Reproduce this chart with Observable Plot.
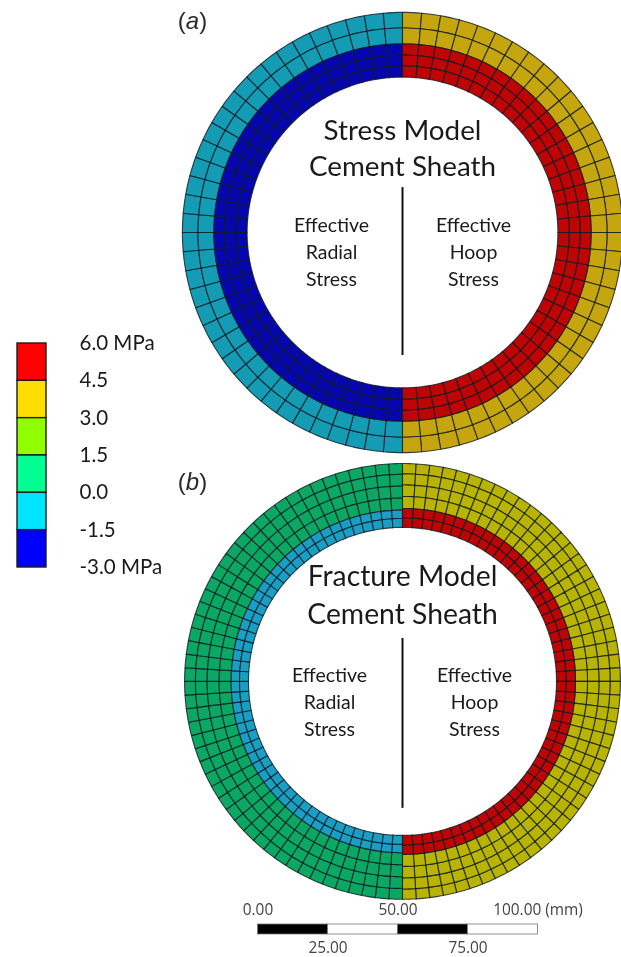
<!DOCTYPE html>
<html>
<head>
<meta charset="utf-8">
<script src="https://cdn.jsdelivr.net/npm/d3@7"></script>
<script src="https://cdn.jsdelivr.net/npm/@observablehq/plot@0.6"></script>
<style>
html,body{margin:0;padding:0;background:#fff}
#page{position:relative;width:621px;height:957px;overflow:hidden}
#page svg{position:absolute;overflow:visible;background:transparent;filter:blur(0.4px)}
</style>
</head>
<body>
<div id="page"></div>
<script>
// Stress scale legend (MPa)
const legendValues = [6, 4.5, 3, 1.5, 0, -1.5, -3];
const legendLabels = ["6.0 MPa", "4.5", "3.0", "1.5", "0.0", "-1.5", "-3.0 MPa"];
const legendColors = ["#ff0000", "#ffdd00", "#90ff00", "#00ff90", "#00e5ff", "#0000ff"];

// Mesh radii in mm, outside to inside
const stressOuterRadii = [78.9, 73.3, 67.6];
const stressInnerRadii = [67.6, 63.6, 59.7, 55.7];
const fractureRadialOuterRadii = [78.1, 74.2, 70.0, 65.7, 61.4];
const fractureRadialInnerRadii = [61.4, 58.4, 55.2];
const fractureHoopOuterRadii = [78.1, 74.4, 70.4, 66.3, 62.0];
const fractureHoopInnerRadii = [62.0, 58.6, 55.2];

// Mesh cells around each half circle
const stressCells = 36;
const fractureCells = 50;

// Ring colours
const stressRadialColors = ["#149cb4", "#0606ae"];
const stressHoopColors = ["#c6a60e", "#bf0404"];
const fractureRadialColors = ["#0aa862", "#1a9fc4"];
const fractureHoopColors = ["#b9b402", "#bf0404"];

// Scale bar (mm)
const barStops = [0, 25, 50, 75, 100];
const barFills = ["#000000", "#ffffff", "#000000", "#ffffff"];
const barTopLabels = [{v: 0, t: "0.00"}, {v: 50, t: "50.00"}, {v: 100, t: "100.00 (mm)"}];
const barBottomLabels = [{v: 25, t: "25.00"}, {v: 75, t: "75.00"}];

// Ring centres on the y axis (mm)
const centerA = 0;
const centerB = -160.9;

const PX = 2.79;
const polar = (r, deg, cy) => [r * Math.sin(deg * Math.PI / 180), cy + r * Math.cos(deg * Math.PI / 180)];

// one closed polygon per mesh cell
function meshCells(radii, cells, from, cy) {
  const rows = [];
  const step = 180 / cells;
  for (let i = 0; i + 1 < radii.length; i++) {
    for (let j = 0; j < cells; j++) {
      const a0 = from + j * step, a1 = a0 + step, id = `${i}-${j}`;
      const pts = [];
      for (let s = 0; s <= 4; s++) pts.push(polar(radii[i], a0 + (a1 - a0) * s / 4, cy));
      for (let s = 4; s >= 0; s--) pts.push(polar(radii[i + 1], a0 + (a1 - a0) * s / 4, cy));
      pts.push(pts[0]);
      for (const p of pts) rows.push({x: p[0], y: p[1], id});
    }
  }
  return rows;
}
function band(radii, cells, from, cy, color) {
  return Plot.line(meshCells(radii, cells, from, cy), {
    x: "x", y: "y", z: "id", fill: color, stroke: "#0e1a24",
    strokeWidth: 1.1, strokeOpacity: 0.8, curve: "linear"
  });
}

const titleFont = {fontFamily: "Lato, 'Open Sans', sans-serif", fill: "#1a1a1a"};
// a text block whose lines sit at pixel offsets from a ring centre
function block(lines, dx, dys, size, cy) {
  return lines.map((t, i) => Plot.text([t], {
    x: () => 0, y: () => cy, text: d => d, dx, dy: dys[i], fontSize: size, ...titleFont
  }));
}

const page = document.getElementById("page");

// ---- rings ----
const ringLeft = 168, ringWidth = 453, ringHeight = 900;
const rings = Plot.plot({
  width: ringWidth, height: ringHeight,
  marginTop: 0, marginRight: 0, marginBottom: 0, marginLeft: 0,
  x: {domain: [(ringLeft - 402) / PX, (621 - 402) / PX], range: [0, ringWidth], axis: null},
  y: {domain: [232 / PX, (232 - ringHeight) / PX], range: [0, ringHeight], axis: null},
  marks: [
    band(stressOuterRadii, stressCells, 180, centerA, stressRadialColors[0]),
    band(stressInnerRadii, stressCells, 180, centerA, stressRadialColors[1]),
    band(stressOuterRadii, stressCells, 0, centerA, stressHoopColors[0]),
    band(stressInnerRadii, stressCells, 0, centerA, stressHoopColors[1]),
    band(fractureRadialOuterRadii, fractureCells, 180, centerB, fractureRadialColors[0]),
    band(fractureRadialInnerRadii, fractureCells, 180, centerB, fractureRadialColors[1]),
    band(fractureHoopOuterRadii, fractureCells, 0, centerB, fractureHoopColors[0]),
    band(fractureHoopInnerRadii, fractureCells, 0, centerB, fractureHoopColors[1]),

    ...block(["Stress Model", "Cement Sheath"], 0, [-101, -65], 27.8, centerA),
    ...block(["Effective", "Radial", "Stress"], -71, [-7, 20, 47], 19.5, centerA),
    ...block(["Effective", "Hoop", "Stress"], 71, [-7, 20, 47], 19.5, centerA),
    Plot.ruleX([0], {y1: centerA + 16.1, y2: centerA - 44.1, stroke: "#111", strokeWidth: 2}),

    ...block(["Fracture Model", "Cement Sheath"], 0, [-104, -66], 28.3, centerB),
    ...block(["Effective", "Radial", "Stress"], -73, [-6, 21, 48], 19.5, centerB),
    ...block(["Effective", "Hoop", "Stress"], 72, [-6, 21, 48], 19.5, centerB),
    Plot.ruleX([0], {y1: centerB + 15.4, y2: centerB - 45.5, stroke: "#111", strokeWidth: 2}),

    Plot.text(["(a)"], {x: () => 0, y: () => centerA, text: d => d, dx: -210, dy: -211,
      fontFamily: "'Liberation Sans', Arial, sans-serif", fontSize: 24, fill: "#2a2a2a"}),
    Plot.text(["(b)"], {x: () => 0, y: () => centerB, text: d => d, dx: -210, dy: -199,
      fontFamily: "'Liberation Sans', Arial, sans-serif", fontSize: 24, fill: "#2a2a2a"})
  ]
});
d3.select(rings).selectAll("text").each(function () {
  const s = this.textContent;
  if (s === "(a)" || s === "(b)") {
    this.innerHTML = `(<tspan font-style="italic">${s[1]}</tspan>)`;
  }
});
rings.style.left = ringLeft + "px";
rings.style.top = "0px";
page.appendChild(rings);

// ---- legend ----
const legendRows = legendColors.map((c, i) => ({hi: legendValues[i], lo: legendValues[i + 1], c}));
const legendTop = 325, legendHeight = 260, legendWidth = 168;
const legend = Plot.plot({
  width: legendWidth, height: legendHeight,
  marginTop: 0, marginRight: 0, marginBottom: 0, marginLeft: 0,
  x: {domain: [0, 1], range: [17, 46], axis: null},
  y: {domain: [6, -3], range: [343 - legendTop, 567 - legendTop], axis: null},
  marks: [
    Plot.rect(legendRows, {x1: () => 0, x2: () => 1, y1: "hi", y2: "lo", fill: "c", stroke: "#1c1c1c", strokeWidth: 1.4}),
    Plot.text(legendValues, {
      x: () => 1, y: d => d, text: (d, i) => legendLabels[i], dx: 33, textAnchor: "start",
      fontFamily: "Lato, sans-serif", fontSize: 20.5, fill: "#1a1a1a"
    })
  ]
});
legend.style.left = "0px";
legend.style.top = legendTop + "px";
page.appendChild(legend);

// ---- scale bar ----
const barTop = 900, barHeight = 57;
const barRows = barFills.map((f, i) => ({a: barStops[i], b: barStops[i + 1], f}));
const bar = Plot.plot({
  width: 621, height: barHeight,
  marginTop: 0, marginRight: 0, marginBottom: 0, marginLeft: 0,
  x: {domain: [0, 100], range: [257.5, 537.5], axis: null},
  y: {domain: [0, 1], range: [0, barHeight], axis: null},
  marks: [
    Plot.rect(barRows, {x1: "a", x2: "b", y1: () => 24 / barHeight, y2: () => 34 / barHeight, fill: "f", stroke: "#777", strokeWidth: 0.8}),
    Plot.text(barTopLabels, {x: "v", y: () => 10 / barHeight, text: "t", fontFamily: "'Open Sans', sans-serif", fontSize: 15.4, fill: "#444"}),
    Plot.text(barBottomLabels, {x: "v", y: () => 48 / barHeight, text: "t", fontFamily: "'Open Sans', sans-serif", fontSize: 15.4, fill: "#444"})
  ]
});
bar.style.left = "0px";
bar.style.top = barTop + "px";
page.appendChild(bar);
</script>
</body>
</html>
